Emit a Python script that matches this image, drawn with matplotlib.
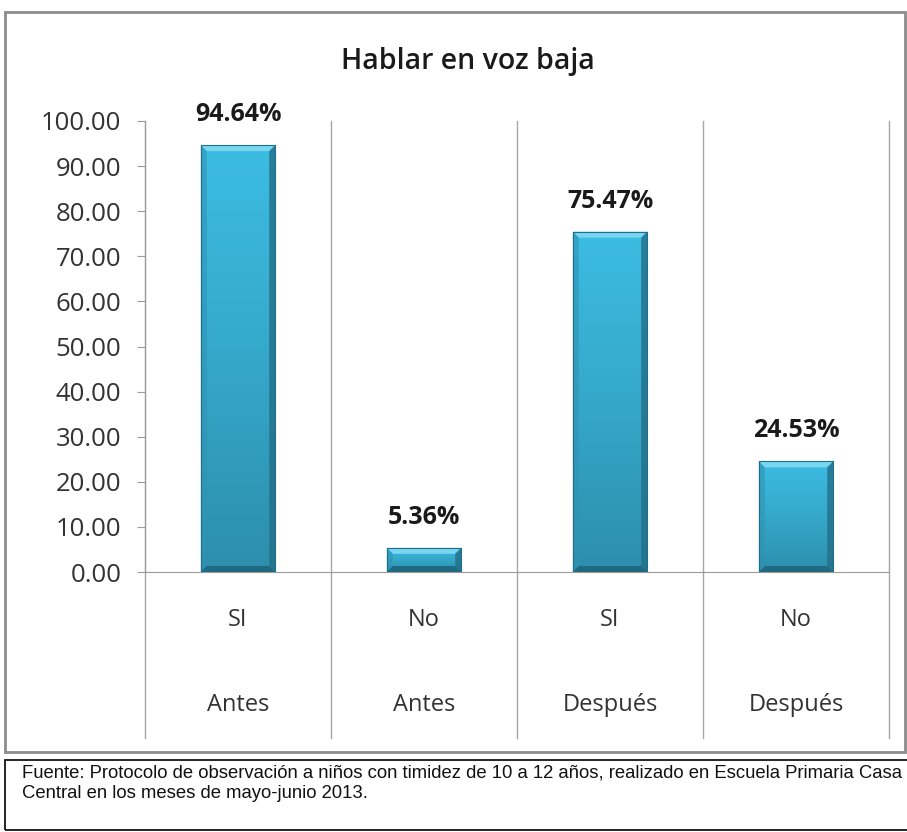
import matplotlib.pyplot as plt
import numpy as np
from matplotlib.patches import Rectangle, Polygon
from matplotlib.colors import LinearSegmentedColormap
from matplotlib.transforms import blended_transform_factory

title = 'Hablar en voz baja'
answers = ['SI', 'No', 'SI', 'No']
moments = ['Antes', 'Antes', 'Después', 'Después']
values = [94.64, 5.36, 75.47, 24.53]
yticks = [0, 10, 20, 30, 40, 50, 60, 70, 80, 90, 100]
source = ('Fuente: Protocolo de observación a niños con timidez de 10 a 12 años, '
          'realizado en Escuela Primaria Casa\nCentral en los meses de mayo-junio 2013.')

plt.rcParams['font.family'] = ['Open Sans', 'DejaVu Sans']

W, H = 907, 832
fig = plt.figure(figsize=(W / 100, H / 100), dpi=100)


def fx(px):
    return px / W


def fy(py):
    return 1 - py / H


# outer chart frame and source box
fig.patches.append(Rectangle((fx(5), fy(752)), fx(905) - fx(5), fy(12) - fy(752),
                             transform=fig.transFigure, fill=False,
                             edgecolor='#8c8c8c', linewidth=2))
fig.patches.append(Rectangle((fx(5), fy(830)), fx(910) - fx(5), fy(760) - fy(830),
                             transform=fig.transFigure, fill=False,
                             edgecolor='black', linewidth=1.2))
fig.text(fx(22), fy(783), source, family=['Liberation Sans', 'DejaVu Sans'],
         fontsize=13.3, va='center', ha='left', linespacing=1.3, color='#111111')

ax = fig.add_axes([fx(145), fy(572), fx(889) - fx(145), fy(121) - fy(572)])
n = len(values)
x = np.arange(n)
ax.set_xlim(-0.5, n - 0.5)
ax.set_ylim(0, 100)

cmap = LinearSegmentedColormap.from_list('bar', ['#2d8eac', '#35a8ca', '#3cbce2'])
grad = np.linspace(0, 1, 256).reshape(-1, 1)
width = 0.4
# bevel size: ~6 px in each direction
dx = 6 * (n / (889 - 145))
dy = 6 * (100 / (572 - 121))
bars = ax.bar(x, values, width=width, color='none', edgecolor='#1f6f88', linewidth=0.8, zorder=4)
for b, v in zip(bars, values):
    bx, bw = b.get_x(), b.get_width()
    im = ax.imshow(grad, cmap=cmap, aspect='auto', origin='lower',
                   extent=[bx, bx + bw, 0, v], zorder=2)
    im.set_clip_path(b)
    d = min(dy, v / 3)
    top = [(bx, v), (bx + bw, v), (bx + bw - dx, v - d), (bx + dx, v - d)]
    left = [(bx, 0), (bx, v), (bx + dx, v - d), (bx + dx, d)]
    right = [(bx + bw, 0), (bx + bw, v), (bx + bw - dx, v - d), (bx + bw - dx, d)]
    bottom = [(bx, 0), (bx + bw, 0), (bx + bw - dx, d), (bx + dx, d)]
    ax.add_patch(Polygon(top, closed=True, facecolor='#78d6f0', edgecolor='none', zorder=3))
    ax.add_patch(Polygon(left, closed=True, facecolor='#2f93b3', edgecolor='none', alpha=0.6, zorder=3))
    ax.add_patch(Polygon(right, closed=True, facecolor='#236f88', edgecolor='none', alpha=0.8, zorder=3))
    ax.add_patch(Polygon(bottom, closed=True, facecolor='#1f6a82', edgecolor='none', zorder=3))
    ax.text(b.get_x() + bw / 2, v + 4.0, f'{v:.2f}%', ha='center', va='bottom',
            fontsize=18, fontweight='bold', color='#1a1a1a')

ax.set_yticks(yticks)
ax.set_yticklabels([f'{t:.2f}' for t in yticks], fontsize=18.5, color='#333333')
ax.set_xticks([])
for s in ['top', 'right']:
    ax.spines[s].set_visible(False)
ax.spines['left'].set_color('#9a9a9a')
ax.spines['bottom'].set_color('#9a9a9a')
ax.tick_params(axis='y', length=6, color='#9a9a9a', pad=11)

# category separators and two-level labels
tr = blended_transform_factory(ax.transData, ax.transAxes)
for b in np.arange(n + 1) - 0.5:
    ax.plot([b, b], [-0.368, 1], transform=tr, color='#a6a6a6', lw=1, clip_on=False, zorder=1)
for xi, a, m in zip(x, answers, moments):
    ax.text(xi, -0.106, a, transform=tr, ha='center', va='center', fontsize=17, color='#333333')
    ax.text(xi, -0.295, m, transform=tr, ha='center', va='center', fontsize=17, color='#333333')

fig.text(fx(468), fy(62), title, ha='center', va='center', fontsize=20.5,
         fontweight='semibold', color='#1a1a1a')

fig.savefig('out.png', dpi=100)
